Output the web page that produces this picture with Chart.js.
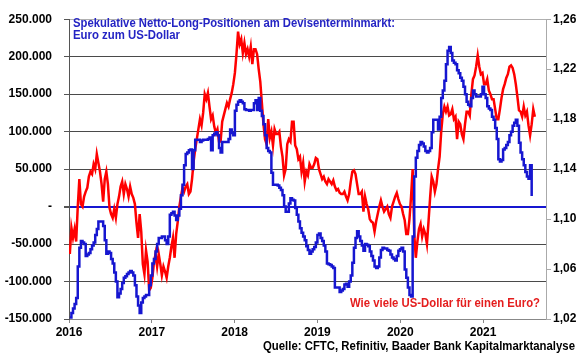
<!DOCTYPE html>
<html>
<head>
<meta charset="utf-8">
<title>Euro zum US-Dollar</title>
<script src="https://cdn.jsdelivr.net/npm/chart.js@4.4.0/dist/chart.umd.min.js"></script>
<style>
    body { margin: 0; background: #fff; }
</style>
</head>
<body>
<canvas id="fxChart" width="580" height="359"></canvas>
<script>
// weekly series, first week = early Jan 2016
const startYear = 2016.01;
const weekLength = 7 / 365.25;

const yearTicks = [2016, 2017, 2018, 2019, 2020, 2021];

// CFTC net long positions (contracts), weekly
const netLong = [
    -148000, -142000, -136000, -130000, -122000, -80000, -55000, -46000, -48000, -50000,
    -66000, -64000, -62000, -57000, -52000, -48000, -38000, -30000, -20000, -20000,
    -20000, -26000, -45000, -63000, -60000, -62000, -70000, -76000, -88000, -100000,
    -121000, -116000, -110000, -102000, -95000, -93000, -90000, -88000, -86000, -88000,
    -92000, -105000, -120000, -132000, -142000, -128000, -122000, -120000, -118000, -118000,
    -105000, -92000, -76000, -70000, -60000, -50000, -42000, -42000, -40000, -40000,
    -45000, -50000, -40000, -11000, -9000, -7000, -12000, -18000, -12000, -3000,
    15000, 29000, 55000, 70000, 72000, 75000, 76000, 50000, 75000, 89000,
    89000, 89000, 86000, 88000, 89000, 89000, 89000, 90000, 92000, 75000,
    95000, 97000, 99000, 95000, 78000, 72000, 86000, 86000, 86000, 86000,
    90000, 103000, 98000, 95000, 128000, 136000, 140000, 142000, 140000, 138000,
    130000, 129000, 129000, 128000, 129000, 129000, 138000, 142000, 129000, 145000,
    128000, 121000, 110000, 95000, 78000, 74000, 72000, 45000, 29000, 29000,
    29000, 28000, 25000, 22000, 15000, 0, -7000, -7000, 4000, 11000,
    9000, 8000, -2000, -11000, -20000, -29000, -35000, -40000, -45000, -53000,
    -58000, -63000, -60000, -57000, -54000, -48000, -38000, -36000, -42000, -46000,
    -52000, -60000, -76000, -77000, -78000, -80000, -82000, -108000, -108000, -108000,
    -114000, -112000, -110000, -104000, -103000, -107000, -100000, -92000, -75000, -55000,
    -42000, -33000, -40000, -46000, -52000, -59000, -50000, -51000, -53000, -60000,
    -66000, -72000, -80000, -82000, -80000, -68000, -58000, -55000, -56000, -56000,
    -58000, -59000, -64000, -68000, -70000, -72000, -66000, -59000, -57000, -55000,
    -60000, -84000, -95000, -108000, -118000, -120000, -40000, 40000, 65000, 74000,
    82000, 86000, 84000, 80000, 74000, 72000, 74000, 78000, 99000, 116000,
    116000, 116000, 103000, 120000, 145000, 155000, 168000, 190000, 208000, 213000,
    205000, 195000, 192000, 190000, 182000, 178000, 172000, 168000, 160000, 150000,
    140000, 136000, 134000, 145000, 155000, 150000, 147000, 147000, 147000, 150000,
    160000, 150000, 145000, 134000, 131000, 129000, 120000, 116000, 105000, 90000,
    63000, 60000, 62000, 76000, 78000, 82000, 86000, 95000, 100000, 108000,
    112000, 116000, 108000, 85000, 72000, 63000, 55000, 46000, 40000, 37000,
    55000, 14000
];

// EUR/USD, weekly
const eurUsd = [
    1.072, 1.093, 1.085, 1.092, 1.082, 1.110, 1.132, 1.112, 1.110, 1.118,
    1.122, 1.125, 1.134, 1.138, 1.136, 1.144, 1.140, 1.152, 1.145, 1.138,
    1.128, 1.114, 1.132, 1.138, 1.128, 1.109, 1.104, 1.101, 1.108, 1.101,
    1.112, 1.118, 1.126, 1.130, 1.120, 1.128, 1.124, 1.118, 1.126, 1.120,
    1.117, 1.112, 1.097, 1.085, 1.104, 1.090, 1.064, 1.056, 1.075, 1.066,
    1.043, 1.045, 1.053, 1.065, 1.072, 1.062, 1.072, 1.064, 1.055, 1.062,
    1.058, 1.053, 1.062, 1.069, 1.078, 1.085, 1.069, 1.088, 1.098, 1.110,
    1.118, 1.125, 1.122, 1.126, 1.128, 1.120, 1.122, 1.132, 1.146, 1.156,
    1.164, 1.172, 1.180, 1.175, 1.185, 1.200, 1.196, 1.201, 1.190, 1.180,
    1.183, 1.174, 1.169, 1.172, 1.162, 1.162, 1.178, 1.183, 1.188, 1.193,
    1.190, 1.196, 1.201, 1.208, 1.217, 1.232, 1.250, 1.240, 1.244, 1.233,
    1.241, 1.232, 1.236, 1.230, 1.238, 1.224, 1.236, 1.236, 1.232, 1.220,
    1.210, 1.193, 1.176, 1.164, 1.160, 1.180, 1.165, 1.170, 1.159, 1.172,
    1.168, 1.168, 1.170, 1.158, 1.150, 1.135, 1.140, 1.160, 1.164, 1.162,
    1.178, 1.178, 1.159, 1.156, 1.148, 1.150, 1.138, 1.145, 1.130, 1.138,
    1.135, 1.144, 1.141, 1.141, 1.144, 1.149, 1.148, 1.140, 1.136, 1.132,
    1.134, 1.130, 1.128, 1.132, 1.130, 1.128, 1.131, 1.126, 1.123, 1.124,
    1.121, 1.120, 1.120, 1.122, 1.118, 1.115, 1.120, 1.130, 1.138, 1.139,
    1.136, 1.128, 1.120, 1.120, 1.122, 1.106, 1.118, 1.112, 1.108, 1.100,
    1.098, 1.097, 1.090, 1.098, 1.104, 1.110, 1.115, 1.110, 1.106, 1.108,
    1.110, 1.104, 1.101, 1.110, 1.114, 1.118, 1.121, 1.116, 1.112, 1.110,
    1.104, 1.099, 1.088, 1.088, 1.100, 1.118, 1.140, 1.088, 1.069, 1.082,
    1.092, 1.096, 1.086, 1.092, 1.088, 1.080, 1.098, 1.117, 1.134, 1.130,
    1.122, 1.128, 1.140, 1.150, 1.170, 1.184, 1.190, 1.186, 1.190, 1.183,
    1.184, 1.188, 1.180, 1.182, 1.164, 1.178, 1.176, 1.168, 1.164, 1.176,
    1.186, 1.186, 1.183, 1.200, 1.212, 1.215, 1.222, 1.231, 1.222, 1.216,
    1.217, 1.208, 1.208, 1.212, 1.203, 1.200, 1.196, 1.196, 1.188, 1.180,
    1.180, 1.188, 1.197, 1.204, 1.208, 1.213, 1.216, 1.222, 1.223, 1.221,
    1.216, 1.208, 1.198, 1.187, 1.186, 1.182, 1.190, 1.183, 1.186, 1.175,
    1.167, 1.176, 1.188, 1.182
];

const titleLines = ['Spekulative Netto-Long-Positionen am Devisenterminmarkt:', 'Euro zum US-Dollar'];
const fxLabel = 'Wie viele US-Dollar für einen Euro?';
const sourceNote = 'Quelle: CFTC, Refinitiv, Baader Bank Kapitalmarktanalyse';

const fontFamily = '"Liberation Sans", Arial, sans-serif';
const tickFont = { family: fontFamily, size: 12, weight: 'bold' };

function toWeekly(values) {
    return values.map((v, i) => ({ x: startYear + i * weekLength, y: v }));
}

function formatThousands(v) {
    if (v === 0) return '-';
    const s = String(Math.abs(v)).replace(/\B(?=(\d{3})+(?!\d))/g, '.');
    return (v < 0 ? '-' : '') + s;
}

const textPlugin = {
    id: 'chartTexts',
    afterDraw(chart) {
        const c = chart.ctx;
        c.save();
        c.font = 'bold 12px ' + fontFamily;
        c.textBaseline = 'middle';
        c.textAlign = 'left';
        c.fillStyle = '#2424c4';
        c.fillText(titleLines[0], 73, 24, 322);
        c.fillText(titleLines[1], 73, 36, 107);
        c.textAlign = 'right';
        c.fillStyle = '#e41e1e';
        c.fillText(fxLabel, 540, 304, 190);
        c.fillStyle = '#000';
        c.fillText(sourceNote, 575, 347, 312);
        c.restore();
    }
};

const ctx = document.getElementById('fxChart').getContext('2d');
new Chart(ctx, {
    type: 'line',
    data: {
        datasets: [{
            label: 'Netto-Long-Positionen',
            data: toWeekly(netLong),
            yAxisID: 'y',
            borderColor: '#1616d0',
            borderWidth: 2.5,
            pointRadius: 0,
            stepped: true,
            order: 0
        }, {
            label: 'EUR/USD',
            data: toWeekly(eurUsd),
            yAxisID: 'y1',
            borderColor: '#ff0000',
            borderWidth: 2.5,
            pointRadius: 0,
            tension: 0,
            order: 1
        }]
    },
    options: {
        responsive: false,
        animation: false,
        layout: { padding: { top: 16, left: 0, right: 0, bottom: 0 } },
        plugins: {
            legend: { display: false },
            tooltip: { enabled: false }
        },
        scales: {
            x: {
                type: 'linear',
                min: 2016,
                max: 2021.76,
                afterFit: s => { s.height = 40; },
                afterBuildTicks: s => { s.ticks = yearTicks.map(v => ({ value: v })); },
                ticks: {
                    autoSkip: false,
                    maxRotation: 0,
                    padding: 2,
                    color: '#000',
                    font: tickFont,
                    callback: v => String(v)
                },
                grid: { drawOnChartArea: false, tickLength: 4, color: '#888' },
                border: { color: '#888' }
            },
            y: {
                position: 'left',
                min: -150000,
                max: 250000,
                afterFit: s => { s.width = 69; },
                ticks: {
                    stepSize: 50000,
                    padding: 12,
                    color: '#000',
                    font: tickFont,
                    callback: v => formatThousands(v)
                },
                grid: {
                    color: c => c.tick && c.tick.value === 0 ? '#1616d0' : (c.tick && c.tick.value === 250000 ? '#b0b0b0' : '#4a4a4a'),
                    lineWidth: c => c.tick && c.tick.value === 0 ? 2 : 1,
                    tickColor: '#555',
                    tickLength: 5
                },
                border: { color: '#555' }
            },
            y1: {
                position: 'right',
                min: 1.02,
                max: 1.26,
                afterFit: s => { s.width = 34; },
                ticks: {
                    stepSize: 0.04,
                    padding: 2,
                    color: '#000',
                    font: tickFont,
                    callback: v => v.toFixed(2).replace('.', ',')
                },
                grid: { drawOnChartArea: false, tickLength: 5, color: '#aaa' },
                border: { color: '#aaa' }
            }
        }
    },
    plugins: [textPlugin]
});
</script>
</body>
</html>
